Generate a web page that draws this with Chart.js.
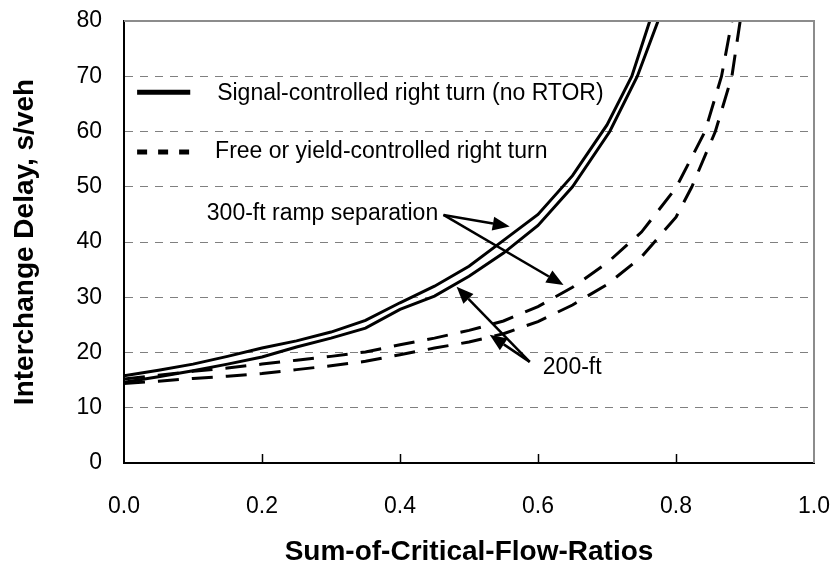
<!DOCTYPE html>
<html>
<head>
<meta charset="utf-8">
<script src="https://cdn.jsdelivr.net/npm/chart.js@4.4.1/dist/chart.umd.min.js"></script>
<style>
  html, body { margin: 0; padding: 0; background: #fff; }
  canvas { display: block; }
</style>
</head>
<body>
<canvas id="canvas" width="834" height="565"></canvas>
<script>
// delay curves (x = sum of critical flow ratios, y = s/veh)
var signal300X = [0, 0.05, 0.1, 0.15, 0.2, 0.25, 0.3, 0.35, 0.4, 0.45, 0.5, 0.55, 0.6, 0.65, 0.7, 0.736, 0.762];
var signal300Y = [15.8, 16.8, 17.9, 19.3, 20.8, 22.1, 23.7, 25.8, 29.0, 32.0, 35.6, 40.3, 45.0, 52.0, 61.2, 70, 80];

var signal200X = [0, 0.05, 0.1, 0.15, 0.2, 0.25, 0.3, 0.35, 0.4, 0.45, 0.5, 0.55, 0.6, 0.65, 0.704, 0.744, 0.774];
var signal200Y = [14.6, 15.6, 16.7, 17.9, 19.2, 21.0, 22.6, 24.4, 27.8, 30.2, 33.8, 38.0, 43.0, 50.0, 60, 70, 80];

var free300X = [0, 0.05, 0.1, 0.15, 0.2, 0.25, 0.3, 0.35, 0.4, 0.45, 0.5, 0.55, 0.6, 0.65, 0.7, 0.75, 0.8, 0.842, 0.866, 0.881];
var free300Y = [15.2, 15.9, 16.6, 17.2, 17.9, 18.6, 19.3, 20.1, 21.4, 22.6, 24.0, 25.7, 28.3, 31.8, 36.2, 41.8, 49.8, 60, 70, 80];

var free200X = [0, 0.05, 0.1, 0.15, 0.2, 0.25, 0.3, 0.35, 0.4, 0.45, 0.5, 0.55, 0.6, 0.65, 0.7, 0.75, 0.8, 0.823, 0.857, 0.881, 0.893];
var free200Y = [14.4, 14.8, 15.3, 15.7, 16.2, 16.9, 17.6, 18.4, 19.6, 20.8, 21.9, 23.4, 25.6, 28.6, 32.3, 37.3, 44.5, 50, 60, 70, 80];

var xTicks = [0, 0.2, 0.4, 0.6, 0.8, 1.0];
var yTicks = [0, 10, 20, 30, 40, 50, 60, 70, 80];

var legendLabels = ['Signal-controlled right turn (no RTOR)', 'Free or yield-controlled right turn'];

// annotation anchors, in data units
var label300 = { text: '300-ft ramp separation', x: 0.120, y: 45.2 };
var label200 = { text: '200-ft', x: 0.607, y: 17.2 };
var arrows300 = [[0.463, 44.9, 0.559, 42.8], [0.463, 44.9, 0.637, 32.2]];
var arrows200 = [[0.588, 18.3, 0.482, 31.9], [0.588, 18.3, 0.530, 23.2]];

var FONT = "'Liberation Sans', Arial, sans-serif";
Chart.defaults.font.family = FONT;
Chart.defaults.color = '#000';

function pts(xs, ys){
    var out = [];
    for(var i = 0; i < xs.length; i++){
        out.push({x: xs[i], y: ys[i]});
    }
    return out;
}

function arrow(ctx, x1, y1, x2, y2){
    var ang = Math.atan2(y2 - y1, x2 - x1);
    var len = 17, half = 7;
    var bx = x2 - len * Math.cos(ang), by = y2 - len * Math.sin(ang);
    ctx.beginPath();
    ctx.moveTo(x1, y1);
    ctx.lineTo(bx, by);
    ctx.stroke();
    ctx.beginPath();
    ctx.moveTo(x2, y2);
    ctx.lineTo(bx + half * Math.sin(ang), by - half * Math.cos(ang));
    ctx.lineTo(bx - half * Math.sin(ang), by + half * Math.cos(ang));
    ctx.closePath();
    ctx.fill();
}

// scale boxes are sized by hand, so drop the label overhang padding
function noPad(s){
    s.paddingTop = 0; s.paddingBottom = 0; s.paddingLeft = 0; s.paddingRight = 0;
}

var overlay = {
    id: 'overlay',
    afterDraw: function(chart){
        var ctx = chart.ctx, xs = chart.scales.x, ys = chart.scales.y, a = chart.chartArea;
        ctx.save();
        // grey frame on top and right
        ctx.strokeStyle = '#8c8c8c';
        ctx.lineWidth = 2;
        ctx.beginPath();
        ctx.moveTo(a.left, a.top);
        ctx.lineTo(a.right, a.top);
        ctx.lineTo(a.right, a.bottom);
        ctx.stroke();
        // inside tick marks on the x axis
        ctx.strokeStyle = '#000';
        ctx.lineWidth = 1.5;
        for(var i = 1; i < xTicks.length - 1; i++){
            var px = Math.round(xs.getPixelForValue(xTicks[i])) + 0.5;
            ctx.beginPath();
            ctx.moveTo(px, a.bottom);
            ctx.lineTo(px, a.bottom - 9);
            ctx.stroke();
        }
        // legend inside the plot
        ctx.lineWidth = 5;
        var lx1 = xs.getPixelForValue(0.019), lx2 = xs.getPixelForValue(0.096);
        var ly1 = ys.getPixelForValue(67.1), ly2 = ys.getPixelForValue(56.3);
        ctx.beginPath(); ctx.moveTo(lx1, ly1); ctx.lineTo(lx2, ly1); ctx.stroke();
        ctx.setLineDash([10, 11]);
        ctx.beginPath(); ctx.moveTo(lx1, ly2); ctx.lineTo(lx2, ly2); ctx.stroke();
        ctx.setLineDash([]);
        ctx.fillStyle = '#000';
        ctx.font = '23px ' + FONT;
        ctx.textBaseline = 'middle';
        ctx.textAlign = 'left';
        ctx.fillText(legendLabels[0], xs.getPixelForValue(0.135), ly1 + 1);
        ctx.fillText(legendLabels[1], xs.getPixelForValue(0.132), ly2);
        // annotations
        ctx.fillText(label300.text, xs.getPixelForValue(label300.x), ys.getPixelForValue(label300.y));
        ctx.fillText(label200.text, xs.getPixelForValue(label200.x), ys.getPixelForValue(label200.y));
        ctx.lineWidth = 2.5;
        arrows300.concat(arrows200).forEach(function(r){
            arrow(ctx, xs.getPixelForValue(r[0]), ys.getPixelForValue(r[1]),
                       xs.getPixelForValue(r[2]), ys.getPixelForValue(r[3]));
        });
        ctx.restore();
    }
};

function curve(label, xs, ys, dash){
    return {
        label: label,
        data: pts(xs, ys),
        borderColor: '#000',
        borderWidth: 3,
        borderDash: dash,
        pointRadius: 0,
        fill: false,
        tension: 0
    };
}

var config = {
    type: 'line',
    data: {
        datasets: [
            curve('signal 300-ft', signal300X, signal300Y, []),
            curve('signal 200-ft', signal200X, signal200Y, []),
            curve('free 300-ft', free300X, free300Y, [21, 13]),
            curve('free 200-ft', free200X, free200Y, [21, 13])
        ]
    },
    options: {
        responsive: false,
        animation: false,
        devicePixelRatio: 1,
        layout: { padding: { top: 21, right: 20, left: 0, bottom: 0 } },
        plugins: { legend: { display: false }, tooltip: { enabled: false } },
        scales: {
            x: {
                type: 'linear', min: 0, max: 1,
                afterBuildTicks: function(s){ s.ticks = xTicks.map(function(v){ return {value: v}; }); },
                afterFit: function(s){ s.height = 102; noPad(s); },
                ticks: { padding: 30, font: { size: 23 }, color: '#000',
                         callback: function(v){ return Number(v).toFixed(1); } },
                grid: { display: false, drawTicks: false },
                border: { display: true, color: '#000', width: 2 },
                title: { display: true, text: 'Sum-of-Critical-Flow-Ratios', color: '#000',
                         font: { size: 28, weight: 'bold' }, padding: { top: 0, bottom: -4 } }
            },
            y: {
                min: 0, max: 80,
                afterBuildTicks: function(s){ s.ticks = yTicks.map(function(v){ return {value: v}; }); },
                afterFit: function(s){ s.width = 124; noPad(s); },
                ticks: { padding: 22, font: { size: 23 }, color: '#000' },
                grid: { drawTicks: false, lineWidth: 1,
                        color: function(c){ return (c.tick && (c.tick.value === 0 || c.tick.value === 80)) ? 'rgba(0,0,0,0)' : '#808080'; } },
                border: { display: true, color: '#000', width: 2, dash: [8, 7] },
                title: { display: true, text: 'Interchange Delay, s/veh', color: '#000',
                         font: { size: 28, weight: 'bold' }, padding: { top: 8, bottom: 0 } }
            }
        }
    },
    plugins: [overlay]
};

var ctx = document.getElementById('canvas').getContext('2d');
var chart = new Chart(ctx, config);
</script>
</body>
</html>
